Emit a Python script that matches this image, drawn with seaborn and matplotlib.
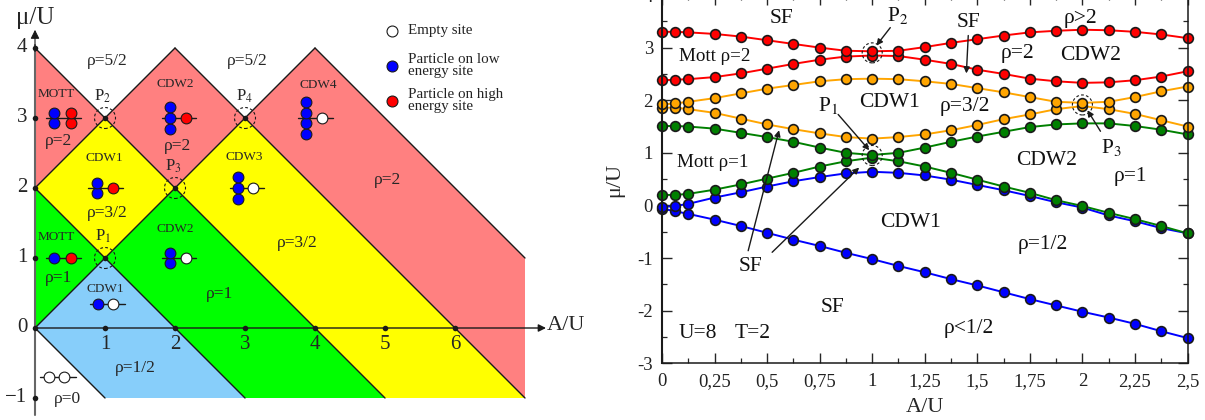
import numpy as np
import pandas as pd
import seaborn as sns
import matplotlib
matplotlib.use('Agg')
import matplotlib.pyplot as plt
from matplotlib.patches import Circle, Ellipse

# phase diagram at T=0 (left panel)
regions = [
    ('#ff8080', [(0, 2), (1, 3), (0, 4)]),
    ('#ff8080', [(1, 3), (2, 2), (3, 3), (2, 4)]),
    ('#ff8080', [(3, 3), (4, 4), (7, 1), (7, -1)]),
    ('#ffff00', [(0, 2), (1, 1), (2, 2), (1, 3)]),
    ('#ffff00', [(2, 2), (3, 3), (7, -1), (5, -1)]),
    ('#00ff00', [(0, 0), (1, 1), (0, 2)]),
    ('#00ff00', [(1, 1), (2, 2), (5, -1), (3, -1)]),
    ('#87cefa', [(0, 0), (1, 1), (3, -1), (1, -1)]),
]
boundaries = [((0, 0), (4, 4)), ((0, 2), (2, 4)), ((0, 0), (1, -1)), ((0, 2), (3, -1)),
              ((0, 4), (5, -1)), ((2, 4), (7, -1)), ((4, 4), (7, 1))]
left_xticks = [1, 2, 3, 4, 5, 6]
left_yticks = [-1, 0, 1, 2, 3, 4]
left_ylabels = ['\u22121', '0', '1', '2', '3', '4']
p_points_a = [1, 1, 2, 3]
p_points_mu = [1, 3, 2, 3]

# (A of line start, A of line end, mu, [(A, number of stacked particles, colour), ...])
site_diagrams = [
    (0.15, 0.66, 3, [(0.27, 2, 'blue'), (0.52, 2, 'red')]),
    (1.81, 2.30, 3, [(1.93, 3, 'blue'), (2.15, 1, 'red')]),
    (3.75, 4.26, 3, [(3.87, 4, 'blue'), (4.10, 1, 'white')]),
    (0.75, 1.25, 2, [(0.88, 2, 'blue'), (1.12, 1, 'red')]),
    (2.78, 3.27, 2, [(2.90, 3, 'blue'), (3.12, 1, 'white')]),
    (0.15, 0.66, 1, [(0.27, 1, 'blue'), (0.52, 1, 'red')]),
    (1.81, 2.30, 1, [(1.93, 2, 'blue'), (2.15, 1, 'white')]),
    (0.78, 1.28, 0.34, [(0.90, 1, 'blue'), (1.12, 1, 'white')]),
    (0.07, 0.58, -0.70, [(0.20, 1, 'white'), (0.42, 1, 'white')]),
]

left_big = [('\u03c1=5/2', 1.03, 3.81), ('\u03c1=5/2', 3.03, 3.81), ('\u03c1=2', 0.34, 2.67), ('\u03c1=2', 2.03, 2.60),
            ('\u03c1=3/2', 1.03, 1.64), ('\u03c1=3/2', 3.74, 1.21), ('\u03c1=1', 0.34, 0.71), ('\u03c1=1', 2.64, 0.49),
            ('\u03c1=1/2', 1.43, -0.57), ('\u03c1=0', 0.46, -1.01), ('\u03c1=2', 5.03, 2.11)]
left_small = [('MOTT', 0.31, 3.34), ('CDW2', 2.01, 3.49), ('CDW4', 4.04, 3.47), ('CDW1', 0.99, 2.43),
              ('CDW3', 2.99, 2.44), ('MOTT', 0.31, 1.30), ('CDW2', 2.01, 1.41), ('CDW1', 1.01, 0.56)]
left_p = [('P$_{2}$', 0.97, 3.31), ('P$_{4}$', 2.99, 3.31), ('P$_{3}$', 1.97, 2.31), ('P$_{1}$', 0.97, 1.31)]
legend_rows = [('white', 'Empty site', 4.24), ('blue', 'Particle on low\nenergy site', 3.74),
               ('red', 'Particle on high\nenergy site', 3.24)]

# finite T curves (right panel)
a_values = [0, 0.0625, 0.125, 0.25, 0.375, 0.5, 0.625, 0.75, 0.875, 1, 1.125, 1.25, 1.375, 1.5, 1.625,
            1.75, 1.875, 2, 2.125, 2.25, 2.375, 2.5]
red_up = [3.30, 3.30, 3.29, 3.26, 3.21, 3.14, 3.07, 3.00, 2.94, 2.93, 2.94, 3.01, 3.09, 3.16, 3.23,
          3.29, 3.32, 3.34, 3.33, 3.30, 3.25, 3.18]
red_low = [2.38, 2.39, 2.40, 2.44, 2.51, 2.60, 2.69, 2.77, 2.83, 2.85, 2.84, 2.77, 2.69, 2.58, 2.50,
           2.41, 2.36, 2.33, 2.34, 2.38, 2.45, 2.55]
orange_up = [1.92, 1.94, 1.97, 2.04, 2.13, 2.22, 2.29, 2.36, 2.40, 2.41, 2.40, 2.36, 2.31, 2.23, 2.15,
             2.06, 1.97, 1.95, 1.97, 2.06, 2.17, 2.26]
orange_low = [1.86, 1.86, 1.83, 1.76, 1.65, 1.54, 1.45, 1.37, 1.30, 1.27, 1.30, 1.35, 1.43, 1.53, 1.64,
              1.73, 1.83, 1.89, 1.83, 1.74, 1.62, 1.50]
green_up = [1.51, 1.51, 1.50, 1.46, 1.38, 1.30, 1.21, 1.10, 1.00, 0.96, 1.00, 1.10, 1.21, 1.31, 1.40,
            1.49, 1.54, 1.56, 1.56, 1.51, 1.44, 1.35]
green_low = [0.20, 0.20, 0.22, 0.30, 0.40, 0.51, 0.62, 0.74, 0.84, 0.91, 0.84, 0.74, 0.62, 0.49, 0.36,
             0.24, 0.10, -0.01, -0.14, -0.26, -0.39, -0.53]
blue_up = [-0.03, -0.01, 0.03, 0.15, 0.25, 0.36, 0.46, 0.54, 0.61, 0.64, 0.62, 0.57, 0.49, 0.39, 0.29,
           0.18, 0.06, -0.04, -0.19, -0.30, -0.43, -0.53]
blue_low = [-0.06, -0.11, -0.16, -0.27, -0.39, -0.52, -0.65, -0.77, -0.90, -1.02, -1.15, -1.27, -1.40, -1.52, -1.65,
            -1.78, -1.90, -2.02, -2.13, -2.25, -2.39, -2.52]
curves = [('blue', blue_low), ('blue', blue_up), ('green', green_low), ('green', green_up),
          ('orange', orange_low), ('orange', orange_up), ('red', red_low), ('red', red_up)]

x_ticks = [0, 0.25, 0.5, 0.75, 1, 1.25, 1.5, 1.75, 2, 2.25, 2.5]
x_ticklabels = ['0', '0,25', '0,5', '0,75', '1', '1,25', '1,5', '1,75', '2', '2,25', '2,5']
y_ticks = [-3, -2, -1, 0, 1, 2, 3, 4]

right_big = [('SF', 0.57, 3.55), ('SF', 1.46, 3.48), ('CDW1', 1.08, 1.96), ('CDW2', 2.04, 2.85), ('CDW2', 1.83, 0.85),
             ('CDW1', 1.18, -0.32), ('SF', 0.42, -1.16), ('SF', 0.81, -1.94), ('P$_{2}$', 1.12, 3.61),
             ('P$_{1}$', 0.79, 1.90), ('P$_{3}$', 2.14, 1.10), ('\u03c1>2', 1.99, 3.56), ('\u03c1=2', 1.69, 2.89),
             ('\u03c1=3/2', 1.44, 1.88), ('\u03c1=1', 2.23, 0.55), ('\u03c1=1/2', 1.81, -0.74), ('\u03c1<1/2', 1.46, -2.34),
             ('U=8', 0.17, -2.43), ('T=2', 0.43, -2.43)]
right_mid = [('Mott \u03c1=2', 0.25, 2.83), ('Mott \u03c1=1', 0.24, 0.82)]
arrows = [((1.086, 3.38), (1.02, 3.04)), ((0.838, 1.73), (0.986, 1.05)), ((1.457, 3.23), (1.448, 2.51)),
          ((2.086, 1.41), (2.024, 1.81)), ((0.41, -0.86), (0.557, 1.43)), ((0.524, -0.89), (0.938, 0.72))]
p_circles_a = [1, 1, 2]
p_circles_mu = [2.90, 0.95, 1.91]

sns.set_theme(style='ticks')
plt.rcParams['font.family'] = ['Liberation Serif', 'DejaVu Serif']
plt.rcParams['mathtext.fontset'] = 'stix'
plt.rcParams['axes.unicode_minus'] = False

W, H = 1205, 420
fig = plt.figure(figsize=(W / 100, H / 100), dpi=100)

#%%
# left panel, 70 px per unit, origin at px (35, 328)
ax = fig.add_axes([0, 0, 0.5, 1])
ax.set_xlim(-35 / 70, (W / 2 - 35) / 70)
ax.set_ylim((328 - H) / 70, 328 / 70)
ax.axis('off')

for colour, corners in regions:
    ax.fill(*zip(*corners), color=colour, lw=0, zorder=1)
for start, end in boundaries:
    ax.plot(*zip(start, end), color='k', lw=1.0, zorder=2)

ax.plot([0, 0], [-1.24, 4.05], color='#666666', lw=1.5, zorder=3)
ax.annotate('', xy=(0, 4.26), xytext=(0, 3.95), zorder=4,
            arrowprops=dict(arrowstyle='-|>', color='k', lw=0.8, shrinkA=0, shrinkB=0, mutation_scale=13))
ax.annotate('', xy=(7.3, 0), xytext=(0, 0), zorder=3,
            arrowprops=dict(arrowstyle='-|>', color='k', lw=1.0, shrinkA=0, shrinkB=0, mutation_scale=11))

dots = pd.DataFrame({'a': left_xticks + [0] * len(left_yticks) + p_points_a,
                     'mu': [0] * len(left_xticks) + left_yticks + p_points_mu})
sns.scatterplot(data=dots, x='a', y='mu', color='k', s=16, linewidth=0, ax=ax, zorder=5, legend=False)
for a, mu in zip(p_points_a, p_points_mu):
    ax.add_patch(Circle((a, mu), 0.15, fill=False, ec='k', lw=0.8, ls=(0, (2.5, 2)), zorder=5))

for a in left_xticks:
    ax.text(a, -0.23, str(a), ha='center', va='center', fontsize=15)
for mu, lab in zip(left_yticks, left_ylabels):
    ax.text(-0.11, mu, lab, ha='right', va='center', fontsize=15)
ax.text(0, 4.43, '\u03bc/U', ha='center', va='center', fontsize=18)
ax.text(7.31, 0.03, 'A/U', ha='left', va='center', fontsize=16)

for a0, a1, mu, columns in site_diagrams:
    ax.plot([a0, a1], [mu, mu], color='k', lw=1.0, zorder=6)
    for a, n, colour in columns:
        stack = mu + (np.arange(n) - (n - 1) / 2) * 0.152
        sns.scatterplot(x=[a] * n, y=stack, color=colour, s=60, edgecolor='k', linewidth=0.8, ax=ax, zorder=7, legend=False)

for txt, a, mu in left_big:
    ax.text(a, mu, txt, ha='center', va='center', fontsize=12.5, zorder=8)
for txt, a, mu in left_small:
    ax.text(a, mu, txt, ha='center', va='center', fontsize=9.5, zorder=8)
for txt, a, mu in left_p:
    ax.text(a, mu, txt, ha='center', va='center', fontsize=12, zorder=8)

for colour, txt, mu in legend_rows:
    sns.scatterplot(x=[5.1], y=[mu], color=colour, s=62, edgecolor='k', linewidth=0.8, ax=ax, zorder=7, legend=False)
    ax.text(5.33, mu + 0.01, txt, ha='left', va='center', fontsize=10.8, linespacing=0.85, color='#222222')

#%%
# right panel
ax2 = fig.add_axes([662 / W, 1 - 363.3 / H, 525.5 / W, 368.3 / H])
ax2.patch.set_alpha(0)
for colour, values in curves:
    sns.lineplot(x=a_values, y=values, color=colour, marker='o', markersize=7, markeredgecolor='k',
                 markeredgewidth=1.2, linewidth=1.4, errorbar=None, ax=ax2, clip_on=False)
ax2.set_xlim(0, 2.5)
ax2.set_ylim(-3, 4)
ax2.set_xticks(x_ticks)
ax2.set_xticklabels(x_ticklabels)
ax2.set_yticks(y_ticks)
ax2.set_xticks(np.arange(0, 2.51, 0.125), minor=True)
ax2.set_yticks(np.arange(-3, 4.01, 0.5), minor=True)
ax2.tick_params(which='major', direction='in', length=7.2, width=1.0, top=True, right=True,
                labelsize=13.5, labelcolor='#222222')
ax2.tick_params(axis='x', pad=7)
ax2.tick_params(axis='y', pad=6.5)
ax2.tick_params(which='minor', direction='in', length=3.6, width=0.9, top=True, right=True)
for side in ax2.spines.values():
    side.set_linewidth(1.1)
    side.set_color('k')
ax2.spines['left'].set_linewidth(1.5)

for a, mu in zip(p_circles_a, p_circles_mu):
    ax2.add_patch(Ellipse((a, mu), 20 / 210, 20 / 52.6, fill=False, ec='k', lw=0.8, ls=(0, (2.5, 2)), zorder=6))
for start, end in arrows:
    ax2.annotate('', xy=end, xytext=start, zorder=7,
                 arrowprops=dict(arrowstyle='-|>', color='k', lw=1.0, shrinkA=0, shrinkB=0, mutation_scale=9))
for txt, a, mu in right_big:
    ax2.text(a, mu, txt, ha='center', va='center', fontsize=15.5, color='#111111', zorder=8)
for txt, a, mu in right_mid:
    ax2.text(a, mu, txt, ha='center', va='center', fontsize=13.7, color='#111111', zorder=8)

fig.text(925 / W, 1 - 408 / H, 'A/U', ha='center', va='center', fontsize=16)
fig.text(615 / W, 1 - 180 / H, '\u03bc/U', ha='center', va='center', fontsize=16, rotation=90)

fig.savefig('out.png', dpi=100)
